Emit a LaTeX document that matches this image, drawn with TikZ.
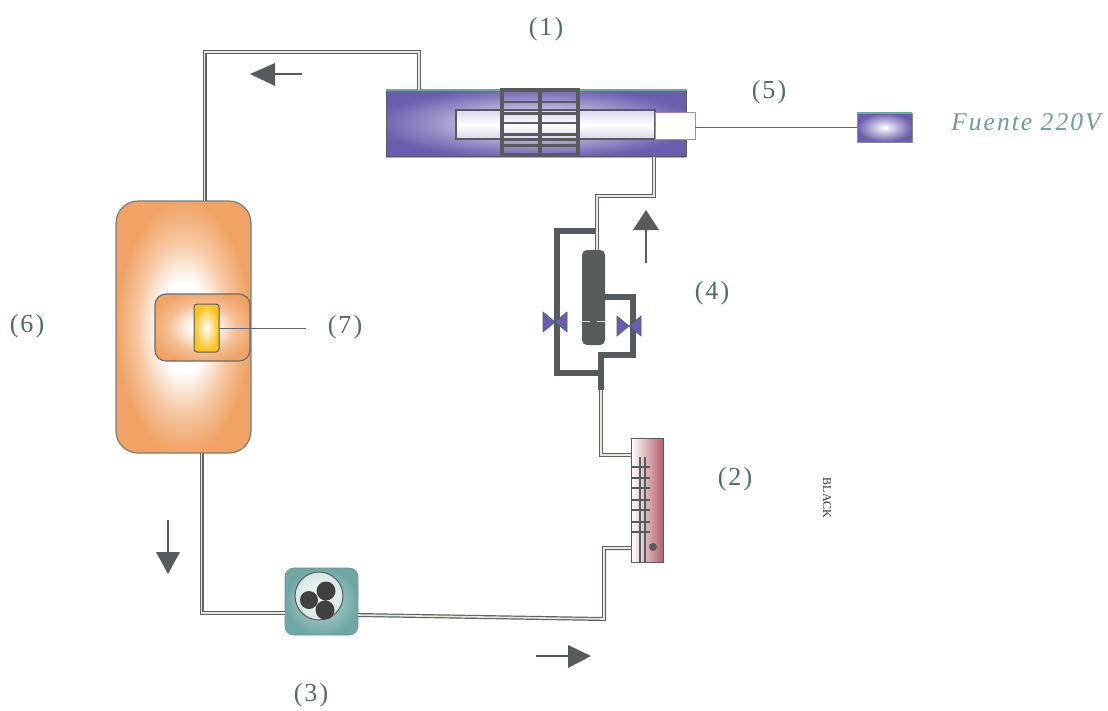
\documentclass[tikz,border=0pt]{standalone}
\usepackage{fontspec}
\setmainfont{Liberation Serif}
\newfontfamily\spaced[LetterSpace=8]{Liberation Serif}
\usetikzlibrary{calc}
\definecolor{ink}{HTML}{565C5E}
\definecolor{labelc}{HTML}{4F6B70}
\definecolor{fuentec}{HTML}{6E9AA2}
\definecolor{pipec}{HTML}{5C6360}
\definecolor{pipein}{HTML}{E6E8DE}
\definecolor{violet}{HTML}{6A5DAE}
\definecolor{orangec}{HTML}{F0A365}
\definecolor{rosec}{HTML}{B4606E}
\definecolor{tealc}{HTML}{6FA7A5}
\pgfdeclareradialshading{tankshade}{\pgfpoint{0bp}{0bp}}{%
  color(0bp)=(white); color(9bp)=(white); color(17bp)=(orangec!60); color(25bp)=(orangec); color(50bp)=(orangec)}
\pgfdeclareradialshading{innershade}{\pgfpoint{0bp}{0bp}}{%
  color(0bp)=(white); color(6bp)=(white); color(18bp)=(orangec!70); color(28bp)=(orangec); color(50bp)=(orangec)}
\pgfdeclareradialshading{evapshade}{\pgfpoint{0bp}{0bp}}{%
  color(0bp)=(violet!30); color(10bp)=(violet!40); color(18bp)=(violet!70); color(27bp)=(violet); color(50bp)=(violet)}
\tikzset{
  x=1pt,y=-1pt,
  box/.style={inner sep=0pt,outer sep=0pt,anchor=north west},
  pipe/.style={draw=pipec,line width=1.2pt,double=pipein,double distance=1.6pt,line join=miter},
  thick pipe/.style={draw=ink,line width=6.5pt,line join=miter},
  wire/.style={draw=gray!80!black,line width=1pt},
  label/.style={text=labelc,font=\fontsize{26}{30}\selectfont\spaced,inner sep=0pt},
  flow/.style={draw=ink,line width=1.1pt},
  head/.style={fill=ink,draw=none},
  valve/.style={fill=violet,draw=tealc!60!black,line width=.6pt},
}
\begin{document}
\begin{tikzpicture}
\useasboundingbox (0,0) rectangle (1108,710);
\fill[white] (0,0) rectangle (1108,710);

% (1) evaporator
\node[box,draw=ink,line width=.8pt,shading=evapshade,minimum width=300pt,minimum height=66pt] (evap) at (386,90) {};
\draw[tealc,line width=1.2pt] (evap.north west) -- (evap.north east);
\draw[rosec!60,line width=1pt] ([yshift=-1pt]evap.south west) -- ([yshift=-1pt]evap.south east);
\node[box,draw=ink,line width=1.2pt,top color=violet!25,bottom color=violet!25,middle color=white,minimum width=199pt,minimum height=29pt] (tube) at (456,110) {};
\node[box,draw=violet!70,line width=1pt,fill=white,minimum width=40pt,minimum height=27pt] (cap) at (655,112) {};
% fan
\node[box,draw=ink,line width=3.5pt,minimum width=76pt,minimum height=65pt] (fan) at (502,90) {};
\draw[ink,line width=4.5pt] (fan.north) -- (fan.south);
\foreach \yy/\ww in {12/2.8,23/3,33/2,44/3,50/1.6,55/3}
  \draw[ink,line width=\ww pt] ([yshift=-\yy pt]fan.north west) -- ([yshift=-\yy pt]fan.north east);

% (5) source
\node[box,draw=ink!70,line width=.6pt,inner color=white,outer color=violet,minimum width=55pt,minimum height=29pt] (src) at (857,113) {};
\draw[tealc,line width=1.2pt] (src.north west) -- (src.north east);
\draw[wire] (src.west -| cap.east) -- (src.west);

% (6) tank
\node[box,draw=ink!80,line width=1.2pt,rounded corners=22pt,shading=tankshade,minimum width=135pt,minimum height=252pt] (tank) at (116,201) {};
\node[box,draw=ink!90,line width=1.2pt,rounded corners=11pt,shading=innershade,minimum width=95pt,minimum height=67pt] (inner) at (155,294) {};
\node[box,draw=ink,line width=1pt,rounded corners=3pt,inner color=white,outer color=orange!55!yellow!90,minimum width=25pt,minimum height=48pt] (heater) at (194,304) {};
\coordinate (wireend) at (306,328);
\draw[wire] (heater.east) -- (wireend);

% (3) compressor
\node[box,draw=tealc!60!gray,line width=.8pt,rounded corners=9pt,inner color=tealc!45,outer color=tealc,minimum width=73pt,minimum height=67pt] (comp) at (285,568) {};
\node[draw=ink,line width=1pt,circle,inner color=white,outer color=tealc!30,minimum size=48pt,inner sep=0pt] (rotor) at (319,596) {};
\fill[black!75] (309,600) circle (9) (326,591) circle (9.5) (325,610) circle (9.5);

% (2) rotameter
\node[box,draw=ink,line width=1pt,left color=white,right color=rosec,minimum width=32pt,minimum height=124pt] (rot) at (631,438) {};
\draw[ink,line width=1.2pt] (640,457) -- (640,562) (645,457) -- (645,562);
\foreach \yy in {467,478,488,500,510,522,532}
  \draw[ink,line width=1.4pt] (631,\yy) -- (650,\yy);
\fill[ink] (653,547) circle (4);

% (4) drier with bypass
\node[box,fill=ink,rounded corners=5pt,minimum width=23pt,minimum height=95pt] (drier) at (582,250) {};
\draw[white!70!gray,line width=1pt] (580,321) -- (590,321) (597,321) -- (607,321);
\coordinate (tee) at (597,231);
\coordinate (tail) at (601,390);
\draw[thick pipe] (tee) -| (557,373) -- (598,373);
\draw[thick pipe] (605,297) -| (633,355) -| (tail);
% valves
\coordinate (v1) at (555,322);
\coordinate (v2) at (629,326);
\foreach \v in {v1,v2}{
  \draw[valve] (\v) -- ++(-12,-10) -- ++(0,20) -- cycle;
  \draw[valve] (\v) -- ++(12,-10) -- ++(0,20) -- cycle;
}

% refrigerant pipes
\draw[pipe] ([xshift=21pt]tank.north) |- (419,52) -- (419,90);
\draw[pipe] ([xshift=18pt]tank.south) |- ([yshift=-45pt]comp.north west);
\draw[pipe] ([yshift=-47pt]comp.north east) -- (604,619) |- ([yshift=-110pt]rot.north west);
\draw[pipe] (tail) |- ([yshift=-17pt]rot.north west);
\draw[pipe] (654,157) |- (597,196) -- (597,250);

% flow arrows
\coordinate (a1a) at (302,74); \coordinate (a1b) at (250,74);
\draw[flow] (a1a) -- (270,74);
\fill[head] (a1b) -- ++(25,-11) -- ++(0,23) -- cycle;
\coordinate (a2a) at (646,263); \coordinate (a2b) at (646,210);
\draw[flow] (a2a) -- (646,228);
\fill[head] (a2b) -- ++(13,20) -- ++(-26,0) -- cycle;
\coordinate (a3a) at (168,520); \coordinate (a3b) at (168,574);
\draw[flow] (a3a) -- (168,555);
\fill[head] (a3b) -- ++(-12,-22) -- ++(24,0) -- cycle;
\coordinate (a4a) at (536,656); \coordinate (a4b) at (591,656);
\draw[flow] (a4a) -- (570,656);
\fill[head] (a4b) -- ++(-23,-11) -- ++(0,23) -- cycle;

% labels
\node[label] (l1) at (546,29) {(1)};
\node[label] (l5) at (769,92) {(5)};
\node[label] (l4) at (712,293) {(4)};
\node[label] (l2) at (735,479) {(2)};
\node[label] (l6) at (27,326) {(6)};
\node[label] (l7) at (345,327) {(7)};
\node[label] (l3) at (311,695) {(3)};
\node[inner sep=0pt,text=fuentec,font=\fontsize{25.5}{28}\selectfont\spaced\itshape] (l8) at (1026,122) {Fuente 220V};
\node[inner sep=0pt,rotate=-90,text=black!80,font=\fontsize{12}{14}\selectfont] (l9) at (827,498) {BLACK};
\end{tikzpicture}
\end{document}
